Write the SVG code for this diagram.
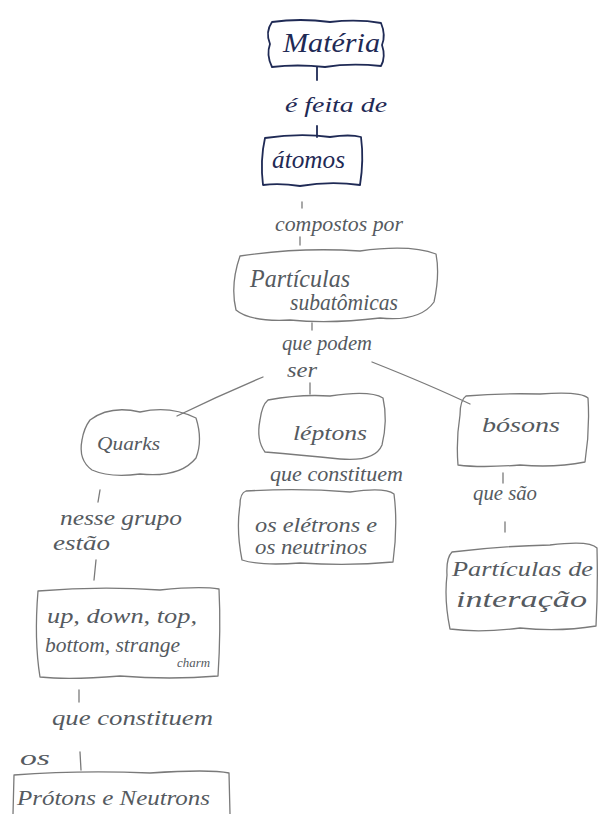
<svg xmlns="http://www.w3.org/2000/svg" width="600" height="814" viewBox="0 0 600 814">
<style>
.ink{fill:none;stroke:#1f2a55;stroke-width:1.8;stroke-linecap:round;stroke-linejoin:round}
.pen{fill:none;stroke:#7a7a7a;stroke-width:1.3;stroke-linecap:round;stroke-linejoin:round}
.ti{font-family:"Liberation Serif",serif;font-style:italic;fill:#1f2a55}
.tp{font-family:"Liberation Serif",serif;font-style:italic;fill:#555a60}
</style>
<rect width="600" height="814" fill="#ffffff"/>
<g id="connectors">
<path class="ink" d="M317 67 L317 80"/>
<path class="ink" d="M317 126 L317 137"/>
<path class="pen" d="M302 202 L302 208"/>
<path class="pen" d="M300 237 L300 245"/>
<path class="pen" d="M312 323 L312 330"/>
<path class="pen" d="M263 377 Q220 395 177 416"/>
<path class="pen" d="M372 362 Q430 385 470 404"/>
<path class="pen" d="M310 383 L310 394"/>
<path class="pen" d="M100 490 L98 502"/>
<path class="pen" d="M96 560 L94 580"/>
<path class="pen" d="M503 473 L503 483"/>
<path class="pen" d="M505 522 L505 532"/>
<path class="pen" d="M79 690 L79 702"/>
<path class="pen" d="M80 752 L81 770"/>
</g>
<g id="materia">
<path class="ink" d="M272 22 Q300 18 330 22 Q358 19 381 23 Q386 35 382 45 Q386 57 381 66 Q350 63 325 67 Q297 64 272 67 Q266 55 270 44 Q265 32 272 22 Z"/>
<text class="ti" x="283" y="52" font-size="28" textLength="97" lengthAdjust="spacingAndGlyphs">Matéria</text>
</g>
<text class="ti" x="285" y="112" font-size="22" textLength="102" lengthAdjust="spacingAndGlyphs">é feita de</text>
<g id="atomos">
<path class="ink" d="M265 138 Q300 133 330 137 Q350 134 361 137 Q364 160 360 185 Q330 181 300 186 Q280 183 263 185 Q260 160 265 138 Z"/>
<text class="ti" x="272" y="168" font-size="26" textLength="73" lengthAdjust="spacingAndGlyphs">átomos</text>
</g>
<text class="tp" x="275" y="231" font-size="21" textLength="128" lengthAdjust="spacingAndGlyphs">compostos por</text>
<g id="particulas">
<path class="pen" d="M240 256 Q300 247 360 251 Q410 244 436 254 Q440 275 434 302 Q420 322 380 318 Q330 324 290 320 Q250 322 236 310 Q230 285 240 256 Z"/>
<text class="tp" x="250" y="287" font-size="25" textLength="100" lengthAdjust="spacingAndGlyphs">Partículas</text>
<text class="tp" x="290" y="310" font-size="23" textLength="108" lengthAdjust="spacingAndGlyphs">subatômicas</text>
</g>
<text class="tp" x="282" y="350" font-size="21" textLength="90" lengthAdjust="spacingAndGlyphs">que podem</text>
<text class="tp" x="287" y="377" font-size="21" textLength="30" lengthAdjust="spacingAndGlyphs">ser</text>
<g id="quarks">
<path class="pen" d="M90 420 Q110 405 140 412 Q170 405 196 418 Q203 440 196 458 Q180 478 140 474 Q110 478 92 470 Q78 460 82 440 Q84 428 90 420 Z"/>
<text class="tp" x="97" y="450" font-size="18" textLength="63" lengthAdjust="spacingAndGlyphs">Quarks</text>
</g>
<g id="leptons">
<path class="pen" d="M268 400 Q300 394 330 396 Q370 390 383 398 Q388 420 382 445 Q375 462 340 459 Q300 455 265 452 Q256 440 260 420 Q262 405 268 400 Z"/>
<text class="tp" x="293" y="440" font-size="22" textLength="74" lengthAdjust="spacingAndGlyphs">léptons</text>
</g>
<g id="bosons">
<path class="pen" d="M466 396 Q500 393 540 394 Q580 391 588 398 Q590 430 585 462 Q555 468 520 465 Q480 468 458 465 Q456 440 460 415 Q460 400 466 396 Z"/>
<text class="tp" x="482" y="432" font-size="22" textLength="78" lengthAdjust="spacingAndGlyphs">bósons</text>
</g>
<text class="tp" x="270" y="481" font-size="20" textLength="133" lengthAdjust="spacingAndGlyphs">que constituem</text>
<g id="eletrons">
<path class="pen" d="M246 491 Q300 488 350 492 Q385 487 394 494 Q398 525 393 562 Q350 566 300 563 Q260 566 242 560 Q236 530 240 505 Q240 493 246 491 Z"/>
<text class="tp" x="255" y="532" font-size="20" textLength="122" lengthAdjust="spacingAndGlyphs">os elétrons e</text>
<text class="tp" x="255" y="554" font-size="20" textLength="112" lengthAdjust="spacingAndGlyphs">os neutrinos</text>
</g>
<text class="tp" x="473" y="500" font-size="20" textLength="64" lengthAdjust="spacingAndGlyphs">que são</text>
<g id="interacao">
<path class="pen" d="M452 552 Q500 546 550 545 Q590 540 597 548 Q598 590 596 626 Q560 632 520 628 Q480 633 450 629 Q444 600 447 575 Q446 558 452 552 Z"/>
<text class="tp" x="452" y="576" font-size="22" textLength="141" lengthAdjust="spacingAndGlyphs">Partículas de</text>
<text class="tp" x="456" y="607" font-size="24" textLength="131" lengthAdjust="spacingAndGlyphs">interação</text>
</g>
<text class="tp" x="60" y="525" font-size="20" textLength="122" lengthAdjust="spacingAndGlyphs">nesse grupo</text>
<text class="tp" x="53" y="550" font-size="20" textLength="57" lengthAdjust="spacingAndGlyphs">estão</text>
<g id="quarks-tipos">
<path class="pen" d="M38 591 Q100 586 160 590 Q200 586 219 589 Q221 630 218 676 Q170 680 120 676 Q70 680 40 677 Q34 640 38 591 Z"/>
<text class="tp" x="47" y="623" font-size="22" textLength="150" lengthAdjust="spacingAndGlyphs">up, down, top,</text>
<text class="tp" x="45" y="652" font-size="22" textLength="135" lengthAdjust="spacingAndGlyphs">bottom, strange</text>
<text class="tp" x="177" y="667" font-size="12" textLength="33" lengthAdjust="spacingAndGlyphs">charm</text>
</g>
<text class="tp" x="52" y="725" font-size="22" textLength="161" lengthAdjust="spacingAndGlyphs">que constituem</text>
<text class="tp" x="20" y="765" font-size="20" textLength="30" lengthAdjust="spacingAndGlyphs">os</text>
<g id="protons">
<path class="pen" d="M14 775 Q80 770 150 773 Q210 769 229 773 L230 814 M14 775 L13 814"/>
<text class="tp" x="17" y="805" font-size="22" textLength="193" lengthAdjust="spacingAndGlyphs">Prótons e Neutrons</text>
</g>
</svg>
